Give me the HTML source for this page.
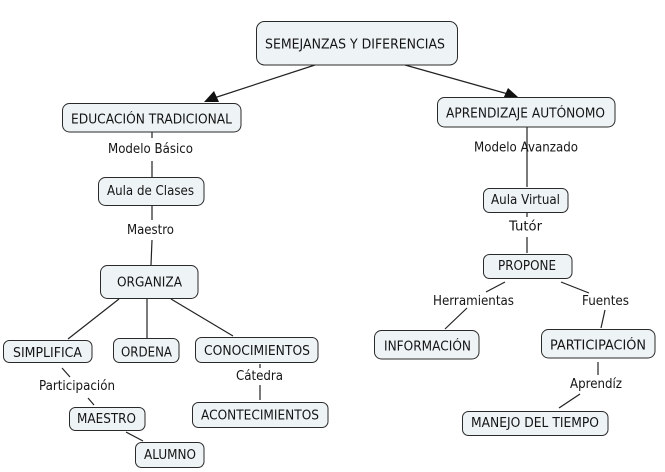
<!DOCTYPE html>
<html>
<head>
<meta charset="utf-8">
<style>
html,body{margin:0;padding:0;background:#fff;}
svg{display:block;}
text{font-family:"DejaVu Sans","Liberation Sans",sans-serif;font-size:13px;fill:#151515;}
.b{fill:#eef3f5;stroke:#2a2a2a;stroke-width:1;}
.l{stroke:#222;stroke-width:1.2;fill:none;}
</style>
</head>
<body>
<svg width="665" height="472" viewBox="0 0 665 472" xmlns="http://www.w3.org/2000/svg">
<!-- connectors -->
<line class="l" x1="315" y1="65" x2="214" y2="98"/>
<polygon points="204,102 214,91 219,102" fill="#111"/>
<line class="l" x1="405" y1="65" x2="508" y2="94"/>
<polygon points="518,97 503,99 508,88" fill="#111"/>

<line class="l" x1="152" y1="132" x2="152" y2="138"/>
<line class="l" x1="152" y1="161" x2="152" y2="177"/>
<line class="l" x1="152" y1="206" x2="152" y2="220"/>
<line class="l" x1="152" y1="240" x2="151" y2="265"/>

<line class="l" x1="119" y1="299" x2="68" y2="339"/>
<line class="l" x1="147" y1="299" x2="147" y2="338"/>
<line class="l" x1="171" y1="299" x2="233" y2="336"/>

<line class="l" x1="62" y1="368" x2="70" y2="377"/>
<line class="l" x1="88" y1="398" x2="94" y2="405"/>
<line class="l" x1="126" y1="432" x2="143" y2="441"/>

<line class="l" x1="260" y1="364" x2="260" y2="368"/>
<line class="l" x1="260" y1="385" x2="260" y2="400"/>

<line class="l" x1="527" y1="127" x2="527" y2="187"/>
<line class="l" x1="527" y1="213" x2="527" y2="217"/>
<line class="l" x1="527" y1="237" x2="527" y2="253"/>

<line class="l" x1="505" y1="282" x2="486" y2="292"/>
<line class="l" x1="467" y1="308" x2="445" y2="329"/>
<line class="l" x1="561" y1="282" x2="589" y2="293"/>
<line class="l" x1="605" y1="310" x2="601" y2="328"/>

<line class="l" x1="598" y1="362" x2="598" y2="375"/>
<line class="l" x1="580" y1="394" x2="559" y2="408"/>

<!-- boxes -->
<rect class="b" x="256.5" y="21.5" width="201" height="43.5" rx="8"/>
<rect class="b" x="62.5" y="103.5" width="178.5" height="28.5" rx="7"/>
<rect class="b" x="98.5" y="177.5" width="105.5" height="28" rx="7"/>
<rect class="b" x="100.5" y="265.5" width="97.5" height="33" rx="7"/>
<rect class="b" x="3.5" y="340.5" width="88.5" height="22" rx="6"/>
<rect class="b" x="113.5" y="338.5" width="65.5" height="24" rx="6"/>
<rect class="b" x="195.5" y="337.5" width="122.5" height="25" rx="6"/>
<rect class="b" x="69.5" y="407.5" width="75.5" height="23" rx="6"/>
<rect class="b" x="135.5" y="442.5" width="68.5" height="25" rx="6"/>
<rect class="b" x="192.5" y="402.5" width="135.5" height="25" rx="6"/>

<rect class="b" x="437.5" y="97.5" width="177.5" height="29.5" rx="7"/>
<rect class="b" x="483.5" y="188.5" width="84.5" height="24" rx="6"/>
<rect class="b" x="483.5" y="254.5" width="88.5" height="24" rx="6"/>
<rect class="b" x="374.5" y="330.5" width="104.5" height="28.5" rx="7"/>
<rect class="b" x="541.5" y="329.5" width="113.5" height="28.5" rx="7"/>
<rect class="b" x="462.5" y="411.5" width="145.5" height="24" rx="6"/>

<!-- node text -->
<text x="265" y="48.5" textLength="180" lengthAdjust="spacingAndGlyphs">SEMEJANZAS Y DIFERENCIAS</text>
<text x="71" y="123.5" textLength="161" lengthAdjust="spacingAndGlyphs">EDUCACIÓN TRADICIONAL</text>
<text x="107" y="195" textLength="87" lengthAdjust="spacingAndGlyphs">Aula de Clases</text>
<text x="117" y="286.5" textLength="65" lengthAdjust="spacingAndGlyphs">ORGANIZA</text>
<text x="13" y="357" textLength="69" lengthAdjust="spacingAndGlyphs">SIMPLIFICA</text>
<text x="121" y="356.5" textLength="51" lengthAdjust="spacingAndGlyphs">ORDENA</text>
<text x="204" y="355" textLength="106" lengthAdjust="spacingAndGlyphs">CONOCIMIENTOS</text>
<text x="77" y="423" textLength="59" lengthAdjust="spacingAndGlyphs">MAESTRO</text>
<text x="144" y="459" textLength="52" lengthAdjust="spacingAndGlyphs">ALUMNO</text>
<text x="201" y="419.5" textLength="118" lengthAdjust="spacingAndGlyphs">ACONTECIMIENTOS</text>

<text x="446" y="117.5" textLength="159" lengthAdjust="spacingAndGlyphs">APRENDIZAJE AUTÓNOMO</text>
<text x="491" y="204" textLength="69" lengthAdjust="spacingAndGlyphs">Aula Virtual</text>
<text x="498" y="270" textLength="58" lengthAdjust="spacingAndGlyphs">PROPONE</text>
<text x="384" y="350.5" textLength="87" lengthAdjust="spacingAndGlyphs">INFORMACIÓN</text>
<text x="550" y="349.5" textLength="96" lengthAdjust="spacingAndGlyphs">PARTICIPACIÓN</text>
<text x="471" y="427" textLength="128" lengthAdjust="spacingAndGlyphs">MANEJO DEL TIEMPO</text>

<!-- link labels -->
<text x="108" y="153" textLength="85" lengthAdjust="spacingAndGlyphs">Modelo Básico</text>
<text x="127" y="234" textLength="47" lengthAdjust="spacingAndGlyphs">Maestro</text>
<text x="39" y="390" textLength="76" lengthAdjust="spacingAndGlyphs">Participación</text>
<text x="236" y="380" textLength="47" lengthAdjust="spacingAndGlyphs">Cátedra</text>
<text x="474" y="151.5" textLength="104" lengthAdjust="spacingAndGlyphs">Modelo Avanzado</text>
<text x="509" y="230.5" textLength="33" lengthAdjust="spacingAndGlyphs">Tutór</text>
<text x="433" y="305" textLength="81" lengthAdjust="spacingAndGlyphs">Herramientas</text>
<text x="582" y="305" textLength="47" lengthAdjust="spacingAndGlyphs">Fuentes</text>
<text x="570" y="388" textLength="52" lengthAdjust="spacingAndGlyphs">Aprendíz</text>
</svg>
</body>
</html>
